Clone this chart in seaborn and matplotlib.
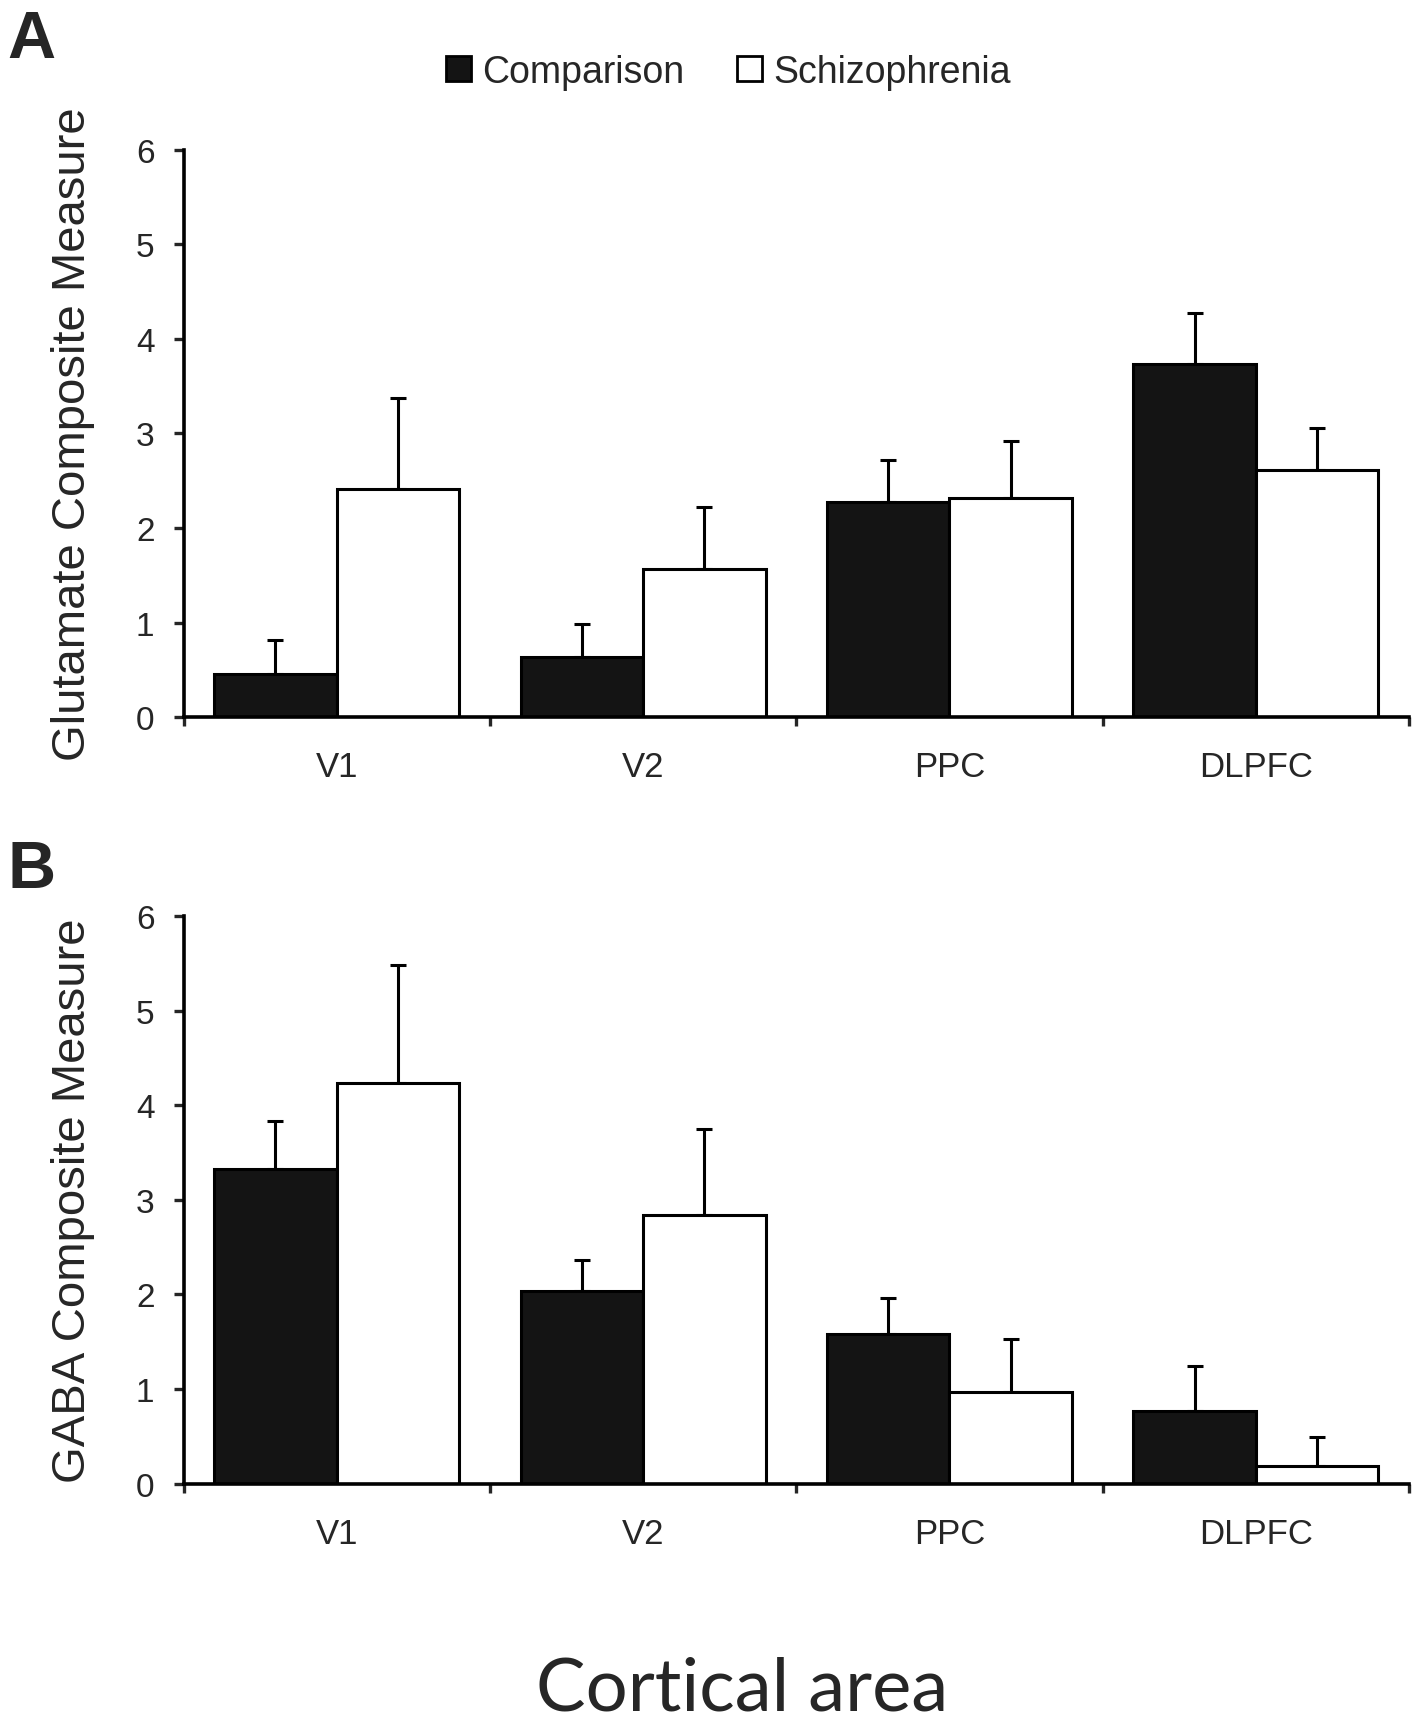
import pandas as pd
import numpy as np
import seaborn as sns
import matplotlib.pyplot as plt
from matplotlib.patches import Patch
from matplotlib.ticker import FixedLocator

areas = ["V1", "V2", "PPC", "DLPFC"]
groups = ["Comparison", "Schizophrenia"]

glu_comparison = [0.45, 0.63, 2.27, 3.73]
glu_schizophrenia = [2.41, 1.57, 2.32, 2.61]
glu_comparison_err = [0.36, 0.35, 0.45, 0.55]
glu_schizophrenia_err = [0.97, 0.65, 0.60, 0.45]

gaba_comparison = [3.33, 2.04, 1.58, 0.77]
gaba_schizophrenia = [4.24, 2.84, 0.97, 0.19]
gaba_comparison_err = [0.50, 0.32, 0.38, 0.47]
gaba_schizophrenia_err = [1.24, 0.91, 0.56, 0.30]

sns.set_style("white")
plt.rcParams["font.family"] = ["Liberation Sans", "DejaVu Sans"]

colors = {"Comparison": "#141414", "Schizophrenia": "white"}


def make_df(comp, schiz):
    return pd.DataFrame({
        "area": areas * 2,
        "group": ["Comparison"] * 4 + ["Schizophrenia"] * 4,
        "value": list(comp) + list(schiz),
    })


def draw_panel(ax, comp, schiz, comp_err, schiz_err, ylabel):
    df = make_df(comp, schiz)
    sns.barplot(data=df, x="area", y="value", hue="group", hue_order=groups,
                order=areas, palette=colors, saturation=1, width=0.8,
                edgecolor="black", linewidth=2.2, errorbar=None,
                legend=False, ax=ax)
    # upper error bars only, placed on the bars seaborn drew
    errs = list(comp_err) + list(schiz_err)
    vals = list(comp) + list(schiz)
    bars = [p for p in ax.patches if p.get_height() > 0][:8]
    xs = [b.get_x() + b.get_width() / 2 for b in bars]
    ax.errorbar(xs, vals, yerr=[np.zeros(8), errs], fmt="none",
                ecolor="black", elinewidth=2.2, capsize=5.5, capthick=2.2,
                zorder=1)
    for b in bars:
        b.set_zorder(2)

    ax.set_xlim(-0.5, 3.5)
    ax.set_ylim(0, 6)
    ax.set_yticks(range(7))
    ax.xaxis.set_minor_locator(FixedLocator([-0.5, 0.5, 1.5, 2.5, 3.5]))
    ax.tick_params(axis="x", which="major", length=0, pad=24, labelsize=25)
    ax.tick_params(axis="x", which="minor", length=6.5, width=2.4,
                   direction="out", bottom=True)
    ax.tick_params(axis="y", length=7, width=2.4, direction="out",
                   left=True, pad=14, labelsize=24)
    sns.despine(ax=ax)
    for s in ["left", "bottom"]:
        ax.spines[s].set_linewidth(2.6)
        ax.spines[s].set_color("black")
    ax.set_xlabel("")
    ax.set_ylabel(ylabel, fontsize=34)
    ax.yaxis.set_label_coords(-0.072, 0.5)


fig = plt.figure(figsize=(14.24, 17.31), dpi=100)
ax_a = fig.add_axes([0.1289, 0.5852, 0.9895 - 0.1289, 0.9128 - 0.5852])
ax_b = fig.add_axes([0.1289, 0.1424, 0.9895 - 0.1289, 0.4702 - 0.1424])

draw_panel(ax_a, glu_comparison, glu_schizophrenia, glu_comparison_err,
           glu_schizophrenia_err, "Glutamate Composite Measure")
draw_panel(ax_b, gaba_comparison, gaba_schizophrenia, gaba_comparison_err,
           gaba_schizophrenia_err, "GABA Composite Measure")

handles = [Patch(facecolor=colors[g], edgecolor="black", linewidth=2, label=g)
           for g in groups]
fig.legend(handles=handles, loc="center", bbox_to_anchor=(0.5116, 0.958),
           ncol=2, frameon=False, fontsize=27, handlelength=0.66,
           handleheight=0.66, handletextpad=0.3, columnspacing=1.4)

fig.text(7 / 1424, 1 - 10 / 1731, "A", fontsize=48, fontweight="bold",
         va="top", ha="left")
fig.text(7 / 1424, 1 - 840 / 1731, "B", fontsize=48, fontweight="bold",
         va="top", ha="left")
fig.text(742 / 1424, 1 - 1690 / 1731, "Cortical area", fontsize=53.5,
         family=["Lato", "DejaVu Sans"], ha="center", va="center")

fig.savefig("out.png", dpi=100)
